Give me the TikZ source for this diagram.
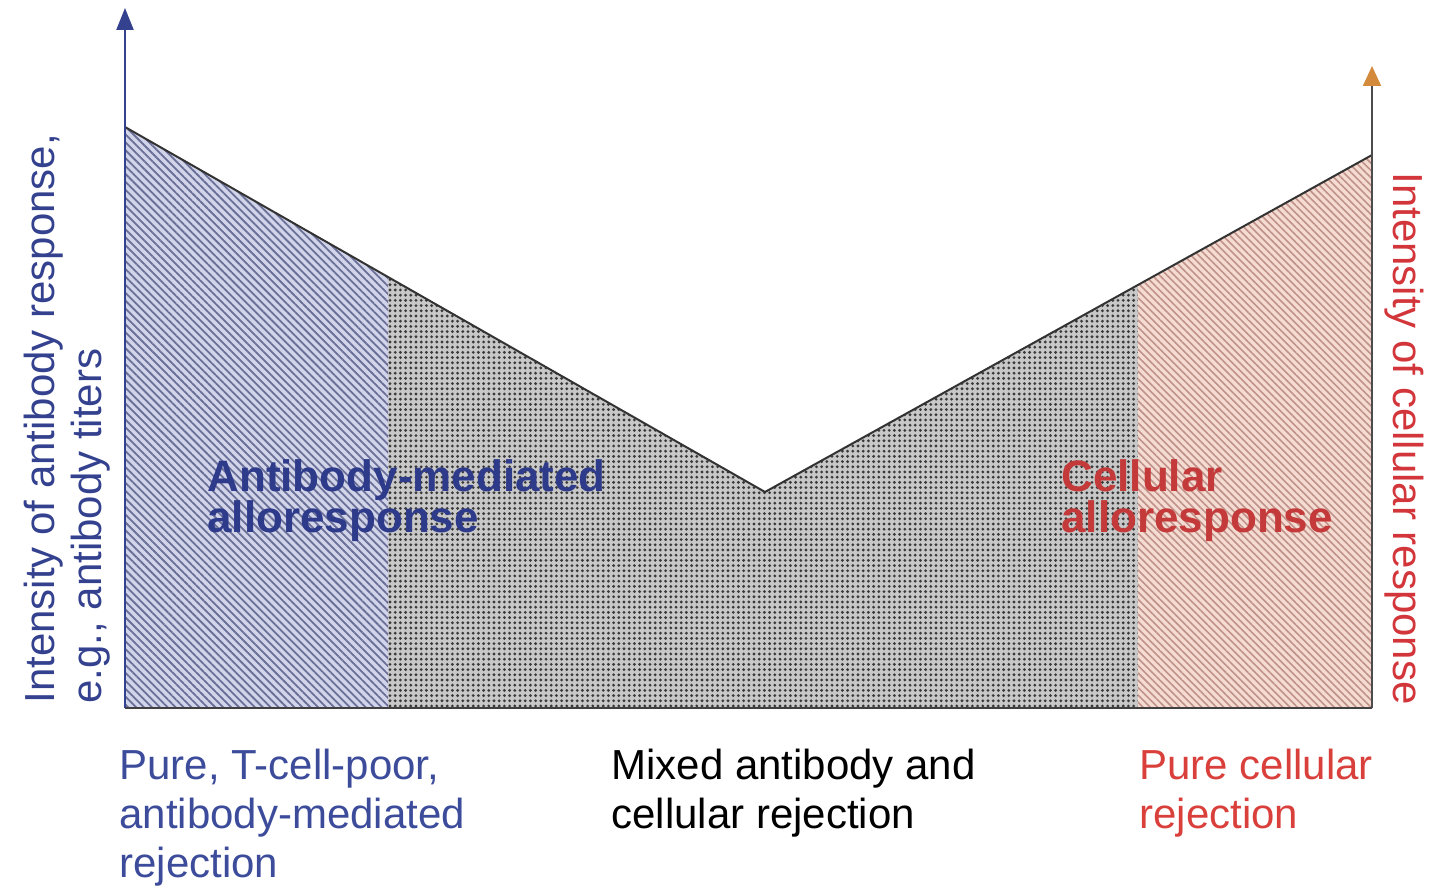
\documentclass[tikz,border=0pt]{standalone}
\usepackage{fontspec}
\setmainfont{Liberation Sans}
\usepackage{tikz}
\usetikzlibrary{arrows.meta, patterns.meta}

\definecolor{abblue}{HTML}{34418E}
\definecolor{abbold}{HTML}{2E3A8A}
\definecolor{capblue}{HTML}{3C4C9B}
\definecolor{abfill}{HTML}{D2D4EA}
\definecolor{abhatch}{HTML}{6A6F98}
\definecolor{mixfill}{HTML}{C8C8C8}
\definecolor{mixdots}{HTML}{3A3A3A}
\definecolor{cellred}{HTML}{D2363B}
\definecolor{cellbold}{HTML}{C43A3A}
\definecolor{capred}{HTML}{D9403B}
\definecolor{cellfill}{HTML}{F5DCD3}
\definecolor{cellhatch}{HTML}{C0928A}
\definecolor{tiporange}{HTML}{D38A3A}

\setlength{\lineskiplimit}{-20pt}

\begin{document}
\begin{tikzpicture}[x=0.5pt, y=-0.5pt,
    axislabel/.style={font=\fontsize{21}{23.5}\selectfont, align=left, inner sep=0pt},
    regionlabel/.style={font=\bfseries\fontsize{22}{20.8}\selectfont, align=left, inner sep=0pt, anchor=north west},
    caption/.style={font=\fontsize{21}{24.3}\selectfont, align=left, inner sep=0pt, anchor=north west}]
  \useasboundingbox (0,0) rectangle (1429,888);

  % corners of the response curve
  \coordinate (origin) at (125,708);
  \coordinate (rbase)  at (1372,708);
  \coordinate (ytop)   at (125,8);
  \coordinate (rtop)   at (1372,66);
  \coordinate (peakl)  at (125,127);
  \coordinate (cutl)   at (388,277);
  \coordinate (dip)    at (765,492);
  \coordinate (cutr)   at (1138,286);
  \coordinate (peakr)  at (1372,155);
  \coordinate (basel)  at (388,708);
  \coordinate (baser)  at (1138,708);

  % shaded regions
  \path[preaction={fill=abfill}, pattern={Lines[angle=-45, distance=2.8pt, line width=0.9pt]}, pattern color=abhatch]
    (origin) -- (peakl) -- (cutl) -- (basel) -- cycle;
  \path[preaction={fill=mixfill}, pattern={Dots[distance=2.6pt, radius=0.78pt]}, pattern color=mixdots]
    (basel) -- (cutl) -- (dip) -- (cutr) -- (baser) -- cycle;
  \path[preaction={fill=cellfill}, pattern={Lines[angle=-45, distance=2.6pt, line width=0.8pt]}, pattern color=cellhatch]
    (baser) -- (cutr) -- (peakr) -- (rbase) -- cycle;

  \draw[black!80, line width=1pt] (peakl) -- (dip) -- (peakr);
  \draw[black!75, line width=1pt] (origin) -- (rbase);

  % axes
  \draw[abblue, line width=1.2pt, -{Triangle[length=11pt, width=8.5pt]}] (origin) -- (ytop);
  \draw[black!70, line width=0.9pt, -{Triangle[length=10pt, width=9pt, color=tiporange]}] (rbase) -- (rtop);

  \node (ylabel) [axislabel, text=abblue, rotate=90, anchor=north west] at (24,704)
    {Intensity of antibody response,\\e.g., antibody titers};
  \node (y2label) [axislabel, text=cellred, rotate=-90, anchor=north west] at (1424,172)
    {Intensity of cellular response};

  \node (ablabel)   [regionlabel, text=abbold]   at (207,459)  {Antibody-mediated\\alloresponse};
  \node (celllabel) [regionlabel, text=cellbold] at (1061,459) {Cellular\\alloresponse};

  \node (purab)   [caption, text=capblue] at (119,749)  {Pure, T-cell-poor,\\antibody-mediated\\rejection};
  \node (mixed)   [caption]               at (611,749)  {Mixed antibody and\\cellular rejection};
  \node (purcell) [caption, text=capred]  at (1139,749) {Pure cellular\\rejection};
\end{tikzpicture}
\end{document}
